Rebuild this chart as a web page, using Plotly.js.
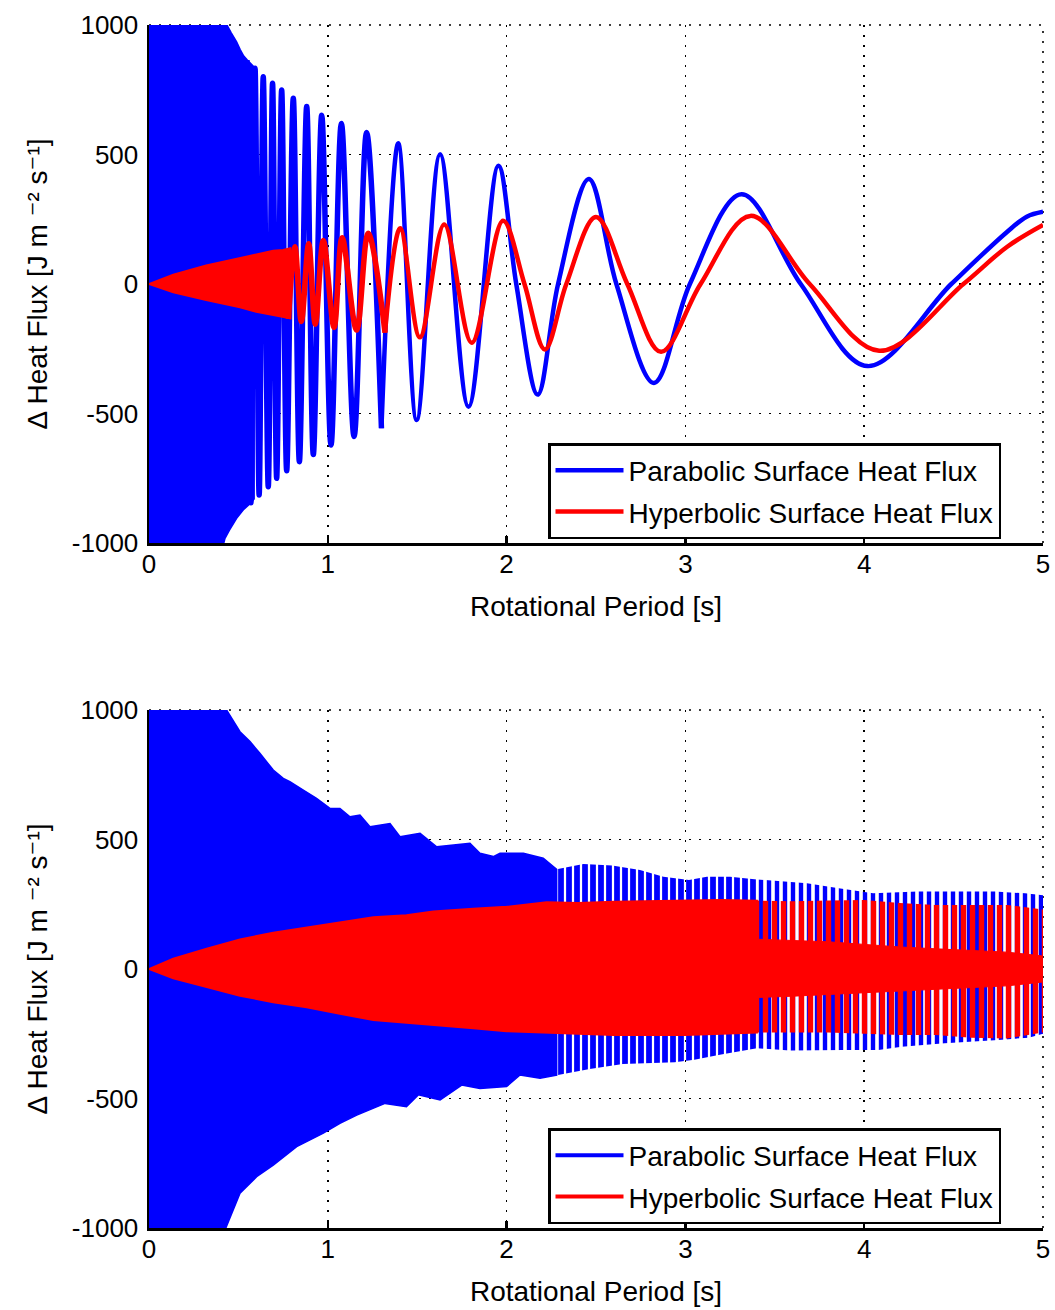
<!DOCTYPE html>
<html>
<head>
<meta charset="utf-8">
<script src="https://cdn.plot.ly/plotly-3.0.1.min.js"></script>
<style>
html,body{margin:0;padding:0;background:#fff;}
#chart{width:1055px;height:1310px;}
</style>
</head>
<body>
<div id="chart"></div>
<script>
// ================= DATA =================
const seriesNames = ['Parabolic Surface Heat Flux', 'Hyperbolic Surface Heat Flux'];
const xTickVals = [0, 1, 2, 3, 4, 5];
const xTickText = ['0', '1', '2', '3', '4', '5'];
const yTickVals = [-1000, -500, 0, 500, 1000];
const yTickText = ['-1000', '-500', '0', '500', '1000'];
const xTitle = 'Rotational Period [s]';
const yTitle = 'Δ Heat Flux [J m \u207B\u00B2 s\u207B\u00B9]';

// ---- Top panel ----
// unresolved (solid) start of the parabolic trace: envelope
const topBlueBandUpperT = [0, 0.436, 0.460, 0.490, 0.510, 0.530, 0.550, 0.570, 0.588];
const topBlueBandUpperV = [1100, 1000, 970, 935, 905, 880, 865, 850, 838];
const topBlueBandLowerT = [0, 0.400, 0.425, 0.450, 0.490, 0.530, 0.562, 0.588];
const topBlueBandLowerV = [-1100, -1050, -982, -950, -905, -870, -850, -830];
// resolved parabolic oscillation: peaks, troughs and zero crossings
const topBlueT = [0.548, 0.570, 0.593, 0.616, 0.639, 0.667, 0.691, 0.714, 0.742, 0.770,
                  0.807, 0.841, 0.882, 0.919, 0.966, 1.018, 1.076, 1.147, 1.217, 1.300,
                  1.394, 1.497, 1.628, 1.787, 1.954, 2.054, 2.174, 2.288, 2.460, 2.614,
                  2.824, 3.025, 3.314, 3.645, 4.018, 4.487, 4.797, 4.909, 5.000];
const topBlueV = [865, -845, 833, -815, 800, -783, 775, -750, 749, -721,
                  717, -686, 685, -658, 652, -622, 620, -589, 585, -557,
                  543, -525, 501, -474, 457, 0, -427, 0, 405, 0,
                  -382, 0, 347, 0, -317, 0, 200, 260, 279];
// unresolved start of the hyperbolic trace: wedge envelope
const topRedBandT = [0, 0.136, 0.320, 0.509, 0.600, 0.695, 0.750, 0.790];
const topRedBandUpperV = [0, 36, 72, 100, 112, 128, 131, 138];
const topRedBandLowerV = [0, -32, -62, -90, -107, -120, -126, -132];
// resolved hyperbolic oscillation
const topRedT = [0.780, 0.816, 0.852, 0.893, 0.930, 0.975, 1.035, 1.080, 1.161, 1.226,
                 1.320, 1.405, 1.515, 1.651, 1.805, 1.980, 2.100, 2.214, 2.334, 2.500,
                 2.675, 2.864, 3.085, 3.364, 3.695, 4.084, 4.555, 4.800, 5.000];
const topRedV = [-135, 144, -145, 155, -155, 168, -168, 179, -178, 196,
                 -188, 215, -206, 230, -227, 244, 0, -253, 0, 259,
                 0, -262, 0, 263, 0, -258, 0, 144, 228];

// ---- Bottom panel (oscillation too fast to resolve: envelopes) ----
const botBlueUpperT = [0, 0.434, 0.509, 0.565, 0.620, 0.695, 0.751, 0.788, 0.863, 0.937,
                       1.012, 1.068, 1.124, 1.180, 1.236, 1.348, 1.404, 1.516, 1.609, 1.795,
                       1.851, 1.926, 1.963, 2.094, 2.205, 2.280, 2.430, 2.590, 2.746, 2.877,
                       3.020, 3.120, 3.250, 3.400, 3.585, 3.680, 3.867, 4.050, 4.300, 4.580,
                       4.730, 4.900, 5.000];
const botBlueUpperV = [1100, 1000, 916, 878, 833, 768, 736, 723, 691, 659,
                       620, 620, 588, 594, 549, 562, 511, 524, 472, 485,
                       447, 434, 447, 447, 428, 385, 405, 400, 382, 356,
                       344, 356, 356, 346, 337, 331, 311, 292, 299, 299,
                       299, 292, 285];
const botBlueLowerT = [0, 0.400, 0.435, 0.509, 0.602, 0.695, 0.826, 0.975, 1.068, 1.162,
                       1.320, 1.440, 1.506, 1.628, 1.749, 1.851, 2.000, 2.075, 2.187, 2.280,
                       2.465, 2.650, 2.940, 3.050, 3.200, 3.400, 3.585, 3.880, 4.080, 4.210,
                       4.450, 4.600, 4.750, 4.920, 5.000];
const botBlueLowerV = [-1100, -1050, -990, -866, -802, -757, -686, -634, -596, -564,
                       -519, -532, -486, -506, -448, -461, -454, -409, -422, -410,
                       -386, -367, -360, -350, -330, -306, -315, -313, -313, -300,
                       -287, -280, -274, -265, -250];
const botRedT = [0, 0.136, 0.323, 0.509, 0.695, 0.882, 1.068, 1.255, 1.440, 1.590,
                 1.814, 2.000, 2.224, 2.400, 2.600, 2.800, 3.000, 3.200, 3.400, 3.600,
                 3.800, 4.000, 4.200, 4.400, 4.600, 4.800, 5.000];
const botRedUpperV = [0, 40, 78, 114, 140, 160, 180, 200, 208, 222,
                      233, 240, 258, 255, 260, 262, 266, 266, 264, 262,
                      264, 266, 255, 247, 247, 247, 230];
const botRedLowerV = [0, -36, -70, -103, -128, -148, -173, -197, -210, -216,
                      -229, -240, -245, -250, -255, -255, -255, -250, -245, -245,
                      -245, -250, -255, -255, -265, -268, -245];
// solid core of the hyperbolic band where its edge breaks into spikes
const botRedCoreT = [3.4, 3.6, 3.8, 4.0, 4.2, 4.4, 4.6, 4.8, 5.0];
const botRedCoreUpperV = [115, 110, 105, 95, 85, 78, 72, 65, 50];
const botRedCoreLowerV = [-110, -105, -100, -92, -85, -78, -72, -65, -50];

// ================= HELPERS =================
const BLUE = '#0000ff', RED = '#ff0000';
function pick(T, V, t0, t1) {
  const x = [], y = [];
  T.forEach((t, i) => { if (t >= t0 - 1e-9 && t <= t1 + 1e-9) { x.push(t); y.push(V[i]); } });
  return {x, y};
}
function band(uT, uV, lT, lV, t0, t1) {
  const u = pick(uT, uV, t0, t1), l = pick(lT, lV, t0, t1);
  return {x: u.x.concat(l.x.slice().reverse()), y: u.y.concat(l.y.slice().reverse())};
}
function solid(b, color, xa, ya, lw) {
  return {type: 'scatter', mode: 'lines', x: b.x, y: b.y, xaxis: xa, yaxis: ya,
          fill: 'toself', fillcolor: color, line: {color: color, width: lw},
          hoverinfo: 'skip', showlegend: false};
}
function striped(b, color, xa, ya, size, sol) {
  return {type: 'scatter', mode: 'lines', x: b.x, y: b.y, xaxis: xa, yaxis: ya,
          fill: 'toself', fillcolor: color, line: {color: color, width: 0},
          fillpattern: {shape: '|', size: size, solidity: sol, fgcolor: color,
                        bgcolor: 'rgba(0,0,0,0)', fgopacity: 1, fillmode: 'replace'},
          hoverinfo: 'skip', showlegend: false};
}
function wave(p, color, width, name, legendgroup) {
  const t = {type: 'scatter', mode: 'lines', x: p.x, y: p.y, xaxis: 'x', yaxis: 'y',
             line: {color: color, width: width, shape: 'spline', smoothing: 1},
             hoverinfo: 'skip', showlegend: false};
  if (name) { t.name = name; t.showlegend = true; t.legend = 'legend'; t.legendgroup = legendgroup; }
  return t;
}

// ================= TRACES =================
const traces = [];
// top panel
traces.push(solid(band(topBlueBandUpperT, topBlueBandUpperV, topBlueBandLowerT, topBlueBandLowerV, 0, 5), BLUE, 'x', 'y', 1.5));
traces.push(wave(pick(topBlueT, topBlueV, 0, 1.30), BLUE, 5.5));
traces.push(wave(pick(topBlueT, topBlueV, 1.30, 5), BLUE, 4.5, seriesNames[0], 'p1'));
traces.push(solid(band(topRedBandT, topRedBandUpperV, topRedBandT, topRedBandLowerV, 0, 5), RED, 'x', 'y', 2));
traces.push(wave(pick(topRedT, topRedV, 0, 1.32), RED, 5.5));
traces.push(wave(pick(topRedT, topRedV, 1.32, 5), RED, 4.5, seriesNames[1], 'h1'));
// bottom panel
traces.push(solid(band(botBlueUpperT, botBlueUpperV, botBlueLowerT, botBlueLowerV, 0, 2.28), BLUE, 'x2', 'y2', 1.5));
traces.push(striped(band(botBlueUpperT, botBlueUpperV, botBlueLowerT, botBlueLowerV, 2.28, 3.4), BLUE, 'x2', 'y2', 8, 0.72));
traces.push(striped(band(botBlueUpperT, botBlueUpperV, botBlueLowerT, botBlueLowerV, 3.4, 5), BLUE, 'x2', 'y2', 8, 0.55));
traces.push(solid(band(botRedT, botRedUpperV, botRedT, botRedLowerV, 0, 3.4), RED, 'x2', 'y2', 2));
traces.push(striped(band(botRedT, botRedUpperV, botRedT, botRedLowerV, 3.4, 5), RED, 'x2', 'y2', 9, 0.6));
traces.push(solid(band(botRedCoreT, botRedCoreUpperV, botRedCoreT, botRedCoreLowerV, 0, 5), RED, 'x2', 'y2', 1));
// legend entries of the bottom panel
traces.push({type: 'scatter', mode: 'lines', x: [null], y: [null], xaxis: 'x2', yaxis: 'y2',
             line: {color: BLUE, width: 4}, name: seriesNames[0], legend: 'legend2', legendgroup: 'p2'});
traces.push({type: 'scatter', mode: 'lines', x: [null], y: [null], xaxis: 'x2', yaxis: 'y2',
             line: {color: RED, width: 4}, name: seriesNames[1], legend: 'legend2', legendgroup: 'h2'});

// ================= LAYOUT =================
const W = 1055, H = 1310;
const FAMILY = '"Liberation Sans", Arial, Helvetica, "DejaVu Sans", sans-serif';
const TICKFONT = {family: FAMILY, size: 26, color: '#000'};
const TITLEFONT = {family: FAMILY, size: 28, color: '#000'};
const LEGFONT = {family: FAMILY, size: 28, color: '#000'};
const GRIDDASH = '2px,8px';
const GRID = {showgrid: true, gridcolor: '#000', gridwidth: 1.6, griddash: GRIDDASH, zeroline: false};
function xAx(anchor) {
  return Object.assign({
    domain: [149 / W, 1043 / W], anchor: anchor, range: [0, 5],
    tickmode: 'array', tickvals: xTickVals, ticktext: xTickText,
    ticks: 'inside', ticklen: 7, tickwidth: 2.5, tickcolor: '#000',
    showline: true, linecolor: '#000', linewidth: 2.5, layer: 'above traces',
    tickfont: TICKFONT, ticklabelstandoff: -4, automargin: false, fixedrange: true,
    title: {text: xTitle, font: TITLEFONT, standoff: 19}
  }, GRID);
}
function yAx(anchor, top, bottom) {
  return Object.assign({
    domain: [1 - bottom / H, 1 - top / H], anchor: anchor, range: [-1000, 1000],
    tickmode: 'array', tickvals: yTickVals, ticktext: yTickText,
    ticks: '', showline: true, linecolor: '#000', linewidth: 2.5, layer: 'above traces',
    tickfont: TICKFONT, ticklabelstandoff: 3, automargin: false, fixedrange: true,
    title: {text: yTitle, font: TITLEFONT, standoff: 16}
  }, GRID);
}
function leg(top) {
  return {x: 548 / W, y: 1 - top / H, xanchor: 'left', yanchor: 'top', xref: 'paper', yref: 'paper',
          bgcolor: '#fff', bordercolor: '#000', borderwidth: 2.5, font: LEGFONT,
          itemwidth: 68, traceorder: 'grouped', tracegroupgap: 2};
}
// dotted grid lines along the top and right edges of each panel (Plotly skips grid lines on the edges)
function edgeGrid(xa, ya) {
  const ln = {color: '#000', width: 1.6, dash: GRIDDASH};
  return [
    {type: 'line', xref: xa + ' domain', yref: ya + ' domain', x0: 0, x1: 1, y0: 1, y1: 1, line: ln, layer: 'below'},
    {type: 'line', xref: xa + ' domain', yref: ya + ' domain', x0: 1, x1: 1, y0: 0, y1: 1, line: ln, layer: 'below'}
  ];
}
const layout = {
  width: W, height: H, margin: {l: 0, r: 0, t: 0, b: 0},
  paper_bgcolor: '#fff', plot_bgcolor: '#fff', font: TICKFONT, showlegend: true,
  xaxis: xAx('y'), yaxis: yAx('x', 25, 543),
  xaxis2: xAx('y2'), yaxis2: yAx('x2', 710, 1228),
  legend: leg(443), legend2: leg(1128),
  shapes: edgeGrid('x', 'y').concat(edgeGrid('x2', 'y2'))
};
Plotly.newPlot('chart', traces, layout, {staticPlot: true, displayModeBar: false});
</script>
</body>
</html>
